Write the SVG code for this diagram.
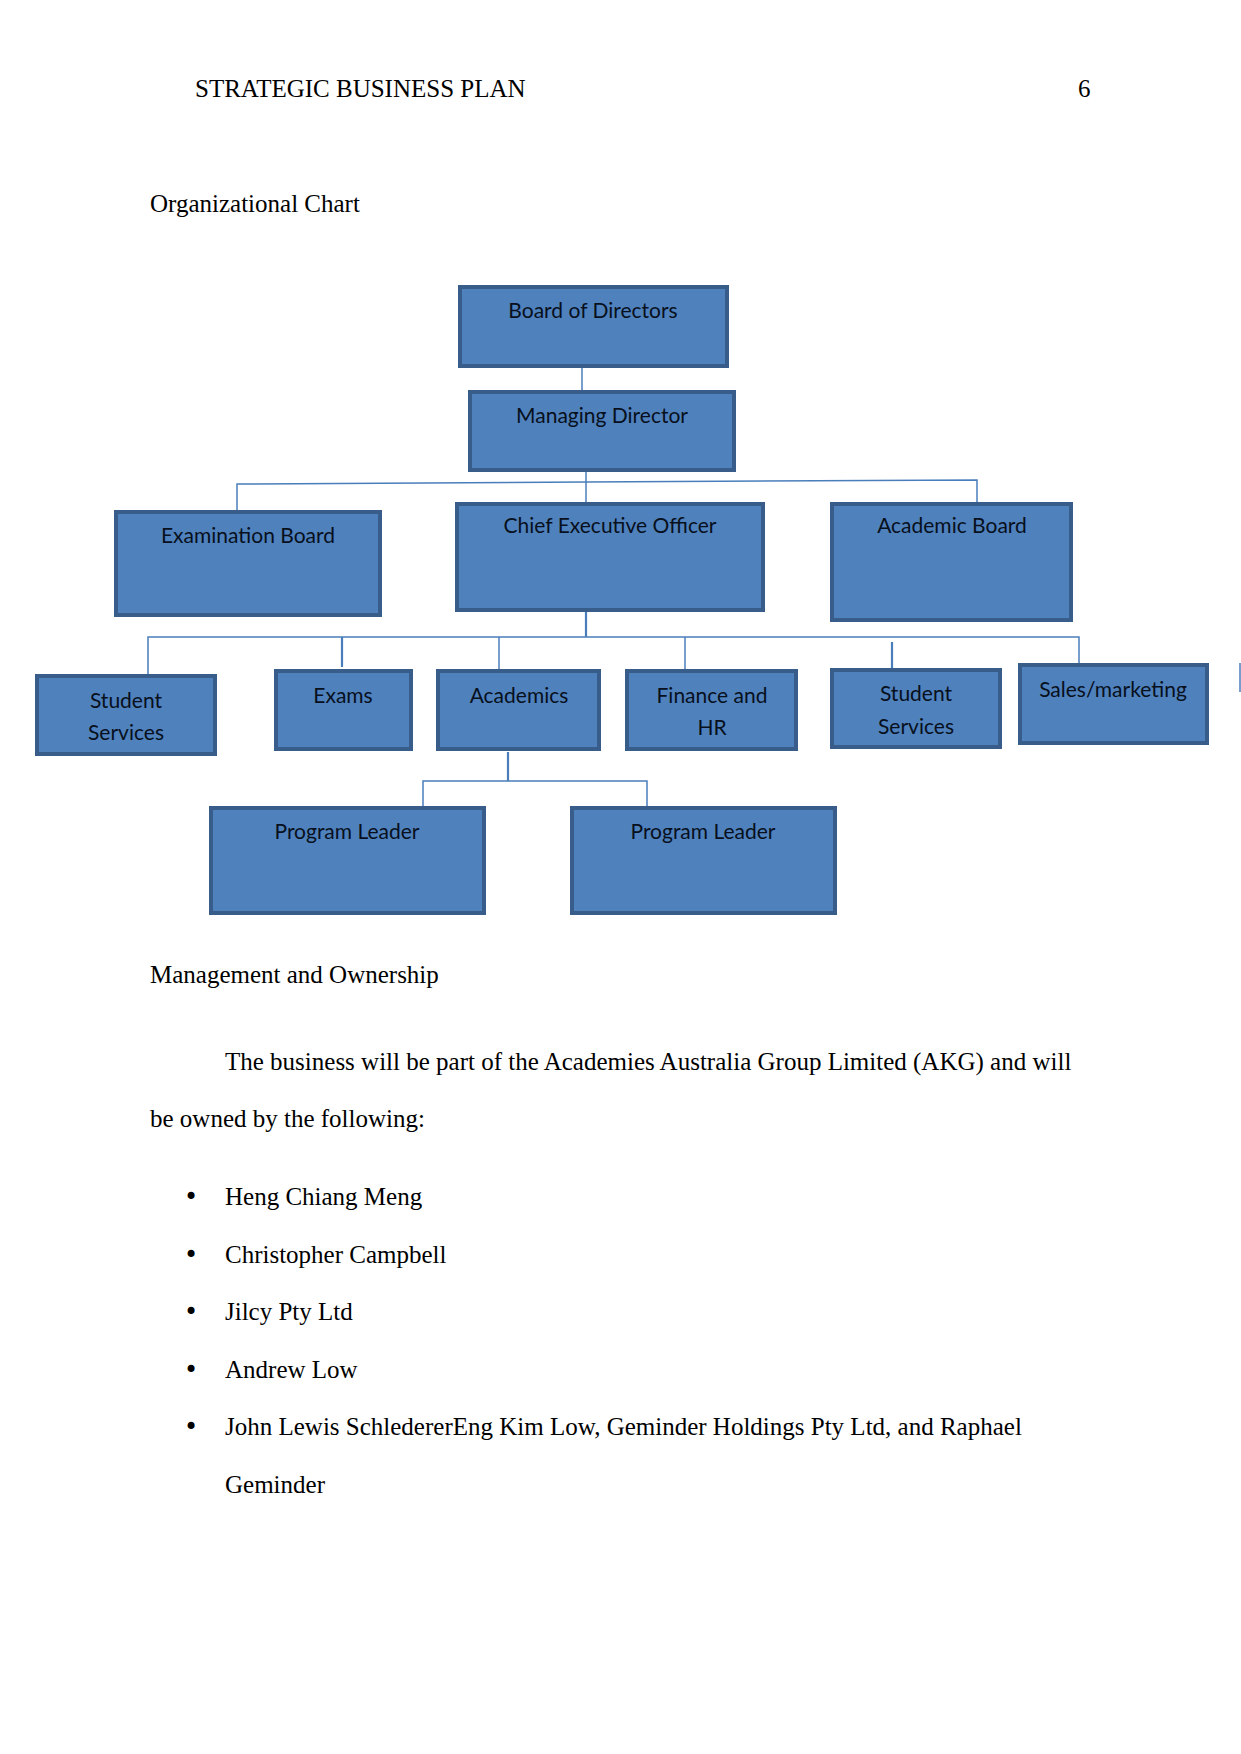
<svg xmlns="http://www.w3.org/2000/svg" width="1241" height="1754" viewBox="0 0 1241 1754">
<style>
.box{fill:#4f81bd;stroke:#385d8a;stroke-width:4}
.lbl{font-family:Lato,"Liberation Sans",sans-serif;font-size:21px;fill:#07101c;text-anchor:middle}
.pg{font-family:"Liberation Serif","Times New Roman",serif;font-size:25px;fill:#000}
.bul{font-family:"DejaVu Sans",sans-serif;font-size:24px;fill:#000}
.c{stroke:#4a7ebb;stroke-width:1.5;fill:none}
.c2{stroke:#4a7ebb;stroke-width:2.2;fill:none}
</style>
<rect width="1241" height="1754" fill="#fff"/>
<text class="pg" x="195" y="97">STRATEGIC BUSINESS PLAN</text>
<text class="pg" x="1078" y="97">6</text>
<text class="pg" x="150" y="212">Organizational Chart</text>

<g id="connectors">
<line class="c" x1="582" y1="366" x2="582" y2="391"/>
<line class="c" x1="586" y1="471" x2="586" y2="502"/>
<polyline class="c" points="237,510 237,484 586,482 977,480 977,502"/>
<line class="c2" x1="586" y1="612" x2="586" y2="637"/>
<polyline class="c" points="148,674 148,637 1079,637 1079,663"/>
<line class="c2" x1="342" y1="637" x2="342" y2="667"/>
<line class="c" x1="499" y1="637" x2="499" y2="669"/>
<line class="c" x1="685" y1="637" x2="685" y2="669"/>
<line class="c2" x1="892" y1="642" x2="892" y2="668"/>
<line class="c2" x1="508" y1="752" x2="508" y2="781"/>
<polyline class="c" points="423,806 423,781 647,781 647,806"/>
<line class="c" x1="1240" y1="663" x2="1240" y2="692"/>
</g>

<g id="board-of-directors">
<rect class="box" x="460" y="287" width="267" height="79"/>
<text class="lbl" x="593" y="318">Board of Directors</text>
</g>
<g id="managing-director">
<rect class="box" x="470" y="392" width="264" height="78"/>
<text class="lbl" x="602" y="423">Managing Director</text>
</g>
<g id="examination-board">
<rect class="box" x="116" y="512" width="264" height="103"/>
<text class="lbl" x="248" y="543">Examination Board</text>
</g>
<g id="chief-executive-officer">
<rect class="box" x="457" y="504" width="306" height="106"/>
<text class="lbl" x="610" y="533">Chief Executive Officer</text>
</g>
<g id="academic-board">
<rect class="box" x="832" y="504" width="239" height="116"/>
<text class="lbl" x="952" y="533">Academic Board</text>
</g>
<g id="student-services-1">
<rect class="box" x="37" y="676" width="178" height="78"/>
<text class="lbl" x="126" y="708">Student</text>
<text class="lbl" x="126" y="740">Services</text>
</g>
<g id="exams">
<rect class="box" x="276" y="671" width="135" height="78"/>
<text class="lbl" x="343" y="703">Exams</text>
</g>
<g id="academics">
<rect class="box" x="438" y="671" width="161" height="78"/>
<text class="lbl" x="519" y="703">Academics</text>
</g>
<g id="finance-hr">
<rect class="box" x="627" y="671" width="169" height="78"/>
<text class="lbl" x="712" y="703">Finance and</text>
<text class="lbl" x="712" y="735">HR</text>
</g>
<g id="student-services-2">
<rect class="box" x="832" y="670" width="168" height="77"/>
<text class="lbl" x="916" y="701">Student</text>
<text class="lbl" x="916" y="734">Services</text>
</g>
<g id="sales-marketing">
<rect class="box" x="1020" y="665" width="187" height="78"/>
<text class="lbl" x="1113" y="697">Sales/marketing</text>
</g>
<g id="program-leader-1">
<rect class="box" x="211" y="808" width="273" height="105"/>
<text class="lbl" x="347" y="839">Program Leader</text>
</g>
<g id="program-leader-2">
<rect class="box" x="572" y="808" width="263" height="105"/>
<text class="lbl" x="703" y="839">Program Leader</text>
</g>

<text class="pg" x="150" y="983">Management and Ownership</text>
<text class="pg" x="225" y="1070">The business will be part of the Academies Australia Group Limited (AKG) and will</text>
<text class="pg" x="150" y="1127">be owned by the following:</text>
<text class="bul" x="184" y="1205">•</text><text class="pg" x="225" y="1205">Heng Chiang Meng</text>
<text class="bul" x="184" y="1263">•</text><text class="pg" x="225" y="1263">Christopher Campbell</text>
<text class="bul" x="184" y="1320">•</text><text class="pg" x="225" y="1320">Jilcy Pty Ltd</text>
<text class="bul" x="184" y="1378">•</text><text class="pg" x="225" y="1378">Andrew Low</text>
<text class="bul" x="184" y="1435">•</text><text class="pg" x="225" y="1435">John Lewis SchledererEng Kim Low, Geminder Holdings Pty Ltd, and Raphael</text>
<text class="pg" x="225" y="1493">Geminder</text>
</svg>
